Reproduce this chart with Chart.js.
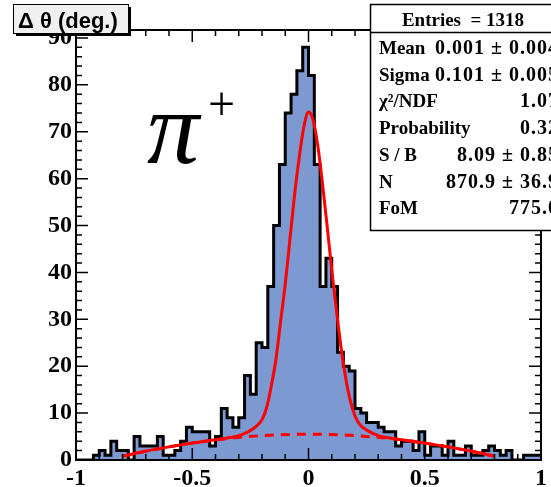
<!DOCTYPE html>
<html>
<head>
<meta charset="utf-8">
<script src="https://cdn.jsdelivr.net/npm/chart.js@4.4.1/dist/chart.umd.min.js"></script>
<style>
  html, body { margin: 0; padding: 0; background: #fff; }
  #wrap { width: 551px; height: 487px; position: relative; }
</style>
</head>
<body>
<div id="wrap"><canvas id="c" width="551" height="487"></canvas></div>
<script>
// histogram: 80 bins from -1 to 1
const binLow = -1;
const binWidth = 0.025;
const counts = [
  0, 0, 0, 0, 1, 2, 1, 4, 2, 2,
  0, 5, 3, 3, 3, 5, 1, 1, 2, 4,
  7, 6, 6, 6, 3, 5, 11, 9, 7, 9,
  18, 14, 25, 24, 37, 50, 63, 74, 78, 83,
  88, 82, 63, 37, 43, 37, 23, 20, 19, 11,
  10, 8, 8, 7, 6, 6, 3, 4, 4, 2,
  6, 1, 3, 3, 1, 4, 1, 1, 3, 1,
  1, 2, 3, 2, 1, 2, 0, 0, 1, 1
];

// total fit (solid)
const fitX = [-0.8, -0.7, -0.6, -0.5, -0.4, -0.35, -0.3, -0.26, -0.22, -0.2, -0.18, -0.16, -0.14, -0.12, -0.1,
  -0.08, -0.06, -0.04, -0.02, 0, 0.02, 0.04, 0.06, 0.08, 0.1, 0.12, 0.14, 0.16, 0.18, 0.2, 0.22, 0.26,
  0.3, 0.35, 0.4, 0.5, 0.6, 0.7, 0.8];
const fitY = [0.8, 1.9, 2.8, 3.6, 4.3, 4.7, 5.2, 6.0, 7.4, 8.6, 11.2, 15.8, 21.5, 29.5, 37.5,
  47, 56.5, 64.5, 71, 74.2, 72.5, 67, 59, 50, 40.5, 32, 24, 17.5, 12.6, 9.4, 7.6, 6.1,
  5.2, 4.7, 4.3, 3.6, 2.8, 1.9, 0.8];

// background (dashed)
const bgX = [-0.8, -0.6, -0.4, -0.2, 0, 0.2, 0.4, 0.6, 0.8];
const bgY = [0.8, 2.8, 4.3, 5.2, 5.5, 5.2, 4.3, 2.8, 0.8];

const xTicks = [-1, -0.5, 0, 0.5, 1];
const yTicks = [0, 10, 20, 30, 40, 50, 60, 70, 80, 90];
const yMax = 91.7;

const statHeader = 'Entries  = 1318';
const statLabels = ['Mean', 'Sigma', 'χ²/NDF', 'Probability', 'S / B', 'N', 'FoM'];
const statValues = ['0.001 ± 0.004', '0.101 ± 0.005', '1.07', '0.32', '8.09 ± 0.85', '870.9 ± 36.9', '775.0'];
const titleText = 'Δ θ (deg.)';

const histPts = counts.map((v, i) => ({ x: binLow + i * binWidth, y: v }));
histPts.push({ x: binLow + counts.length * binWidth, y: counts[counts.length - 1] });
const fitPts = fitX.map((x, i) => ({ x: x, y: fitY[i] }));
const bgPts = bgX.map((x, i) => ({ x: x, y: bgY[i] }));

const serif = '"Liberation Serif", "Times New Roman", serif';

const decor = {
  id: 'decor',
  afterDatasetsDraw(chart) {
    const ctx = chart.ctx;
    const a = chart.chartArea;
    const xs = chart.scales.x, ys = chart.scales.y;
    ctx.save();
    ctx.strokeStyle = '#000';
    ctx.lineWidth = 2;
    ctx.strokeRect(a.left, a.top, a.right - a.left, a.bottom - a.top);
    ctx.lineWidth = 1.5;
    ctx.beginPath();
    // x ticks, every 0.1, long at 0.5
    for (let i = -10; i <= 10; i++) {
      const px = xs.getPixelForValue(i / 10);
      const len = (i % 5 === 0) ? 12 : 6;
      ctx.moveTo(px, a.bottom); ctx.lineTo(px, a.bottom - len);
      ctx.moveTo(px, a.top); ctx.lineTo(px, a.top + len);
    }
    // y ticks, every 2, long at 10
    for (let v = 0; v <= 90; v += 2) {
      const py = ys.getPixelForValue(v);
      const len = (v % 10 === 0) ? 12 : 6;
      ctx.moveTo(a.left, py); ctx.lineTo(a.left + len, py);
      ctx.moveTo(a.right, py); ctx.lineTo(a.right - len, py);
    }
    ctx.stroke();
    ctx.restore();
  },
  afterDraw(chart) {
    const ctx = chart.ctx;
    ctx.save();
    // title box
    ctx.fillStyle = '#000';
    ctx.fillRect(16, 7, 115, 29);
    ctx.fillStyle = '#f0f0f0';
    ctx.fillRect(13, 4, 115, 29);
    ctx.strokeStyle = '#000';
    ctx.lineWidth = 1;
    ctx.strokeRect(13.5, 4.5, 115, 29);
    ctx.fillStyle = '#000';
    ctx.font = 'bold 22px "Liberation Sans", Arial, sans-serif';
    ctx.textAlign = 'left';
    ctx.textBaseline = 'alphabetic';
    ctx.fillText(titleText, 18, 28);

    // stats box
    ctx.fillStyle = '#fff';
    ctx.fillRect(370, 4, 200, 226);
    ctx.lineWidth = 1.5;
    ctx.strokeRect(370.5, 4.5, 200, 226);
    ctx.beginPath();
    ctx.moveTo(370, 32.5); ctx.lineTo(551, 32.5);
    ctx.stroke();
    ctx.fillStyle = '#000';
    ctx.font = 'bold 19px ' + serif;
    ctx.textAlign = 'center';
    ctx.fillText(statHeader, 463, 26);
    statLabels.forEach((lab, i) => {
      const y = 54 + i * 26.7;
      ctx.letterSpacing = '0px';
      ctx.font = 'bold 19px ' + serif;
      ctx.textAlign = 'left';
      ctx.fillText(lab, 379, y);
      ctx.font = 'bold 20px ' + serif;
      ctx.letterSpacing = '1px';
      ctx.textAlign = 'right';
      ctx.fillText(statValues[i], 559, y);
    });
    ctx.letterSpacing = '0px';

    // pi+ label
    ctx.textAlign = 'left';
    ctx.font = 'italic 104px ' + serif;
    ctx.fillText('π', 147, 163);
    ctx.font = '48px ' + serif;
    ctx.fillText('+', 208, 120);
    ctx.restore();
  }
};

new Chart(document.getElementById('c').getContext('2d'), {
  type: 'line',
  data: {
    datasets: [
      { data: fitPts, borderColor: '#ff0000', borderWidth: 3, pointRadius: 0, fill: false,
        cubicInterpolationMode: 'monotone', order: 0 },
      { data: bgPts, borderColor: '#ff0000', borderWidth: 3, borderDash: [9, 7], pointRadius: 0, fill: false,
        cubicInterpolationMode: 'monotone', order: 1 },
      { data: histPts, stepped: 'after', borderColor: '#000', borderWidth: 3, backgroundColor: '#7d99d1',
        fill: 'origin', pointRadius: 0, order: 2 }
    ]
  },
  options: {
    animation: false,
    responsive: false,
    devicePixelRatio: 1,
    layout: { padding: { top: 30, right: 5, left: 0, bottom: 0 } },
    plugins: { legend: { display: false }, tooltip: { enabled: false } },
    scales: {
      x: {
        type: 'linear', min: -1, max: 1,
        afterFit: s => { s.height = 27; },
        grid: { display: false, drawTicks: false },
        border: { display: false },
        ticks: {
          stepSize: 0.5, autoSkip: false, maxRotation: 0, padding: 4, color: '#000',
          font: { family: serif, weight: 'bold', size: 24 },
          callback: v => xTicks.includes(v) ? String(v) : ''
        }
      },
      y: {
        type: 'linear', min: 0, max: yMax,
        afterFit: s => { s.width = 76; },
        grid: { display: false, drawTicks: false },
        border: { display: false },
        ticks: {
          stepSize: 10, includeBounds: false, padding: 4, color: '#000',
          font: { family: serif, weight: 'bold', size: 24 },
          callback: v => yTicks.includes(v) ? String(v) : ''
        }
      }
    }
  },
  plugins: [decor]
});
</script>
</body>
</html>
